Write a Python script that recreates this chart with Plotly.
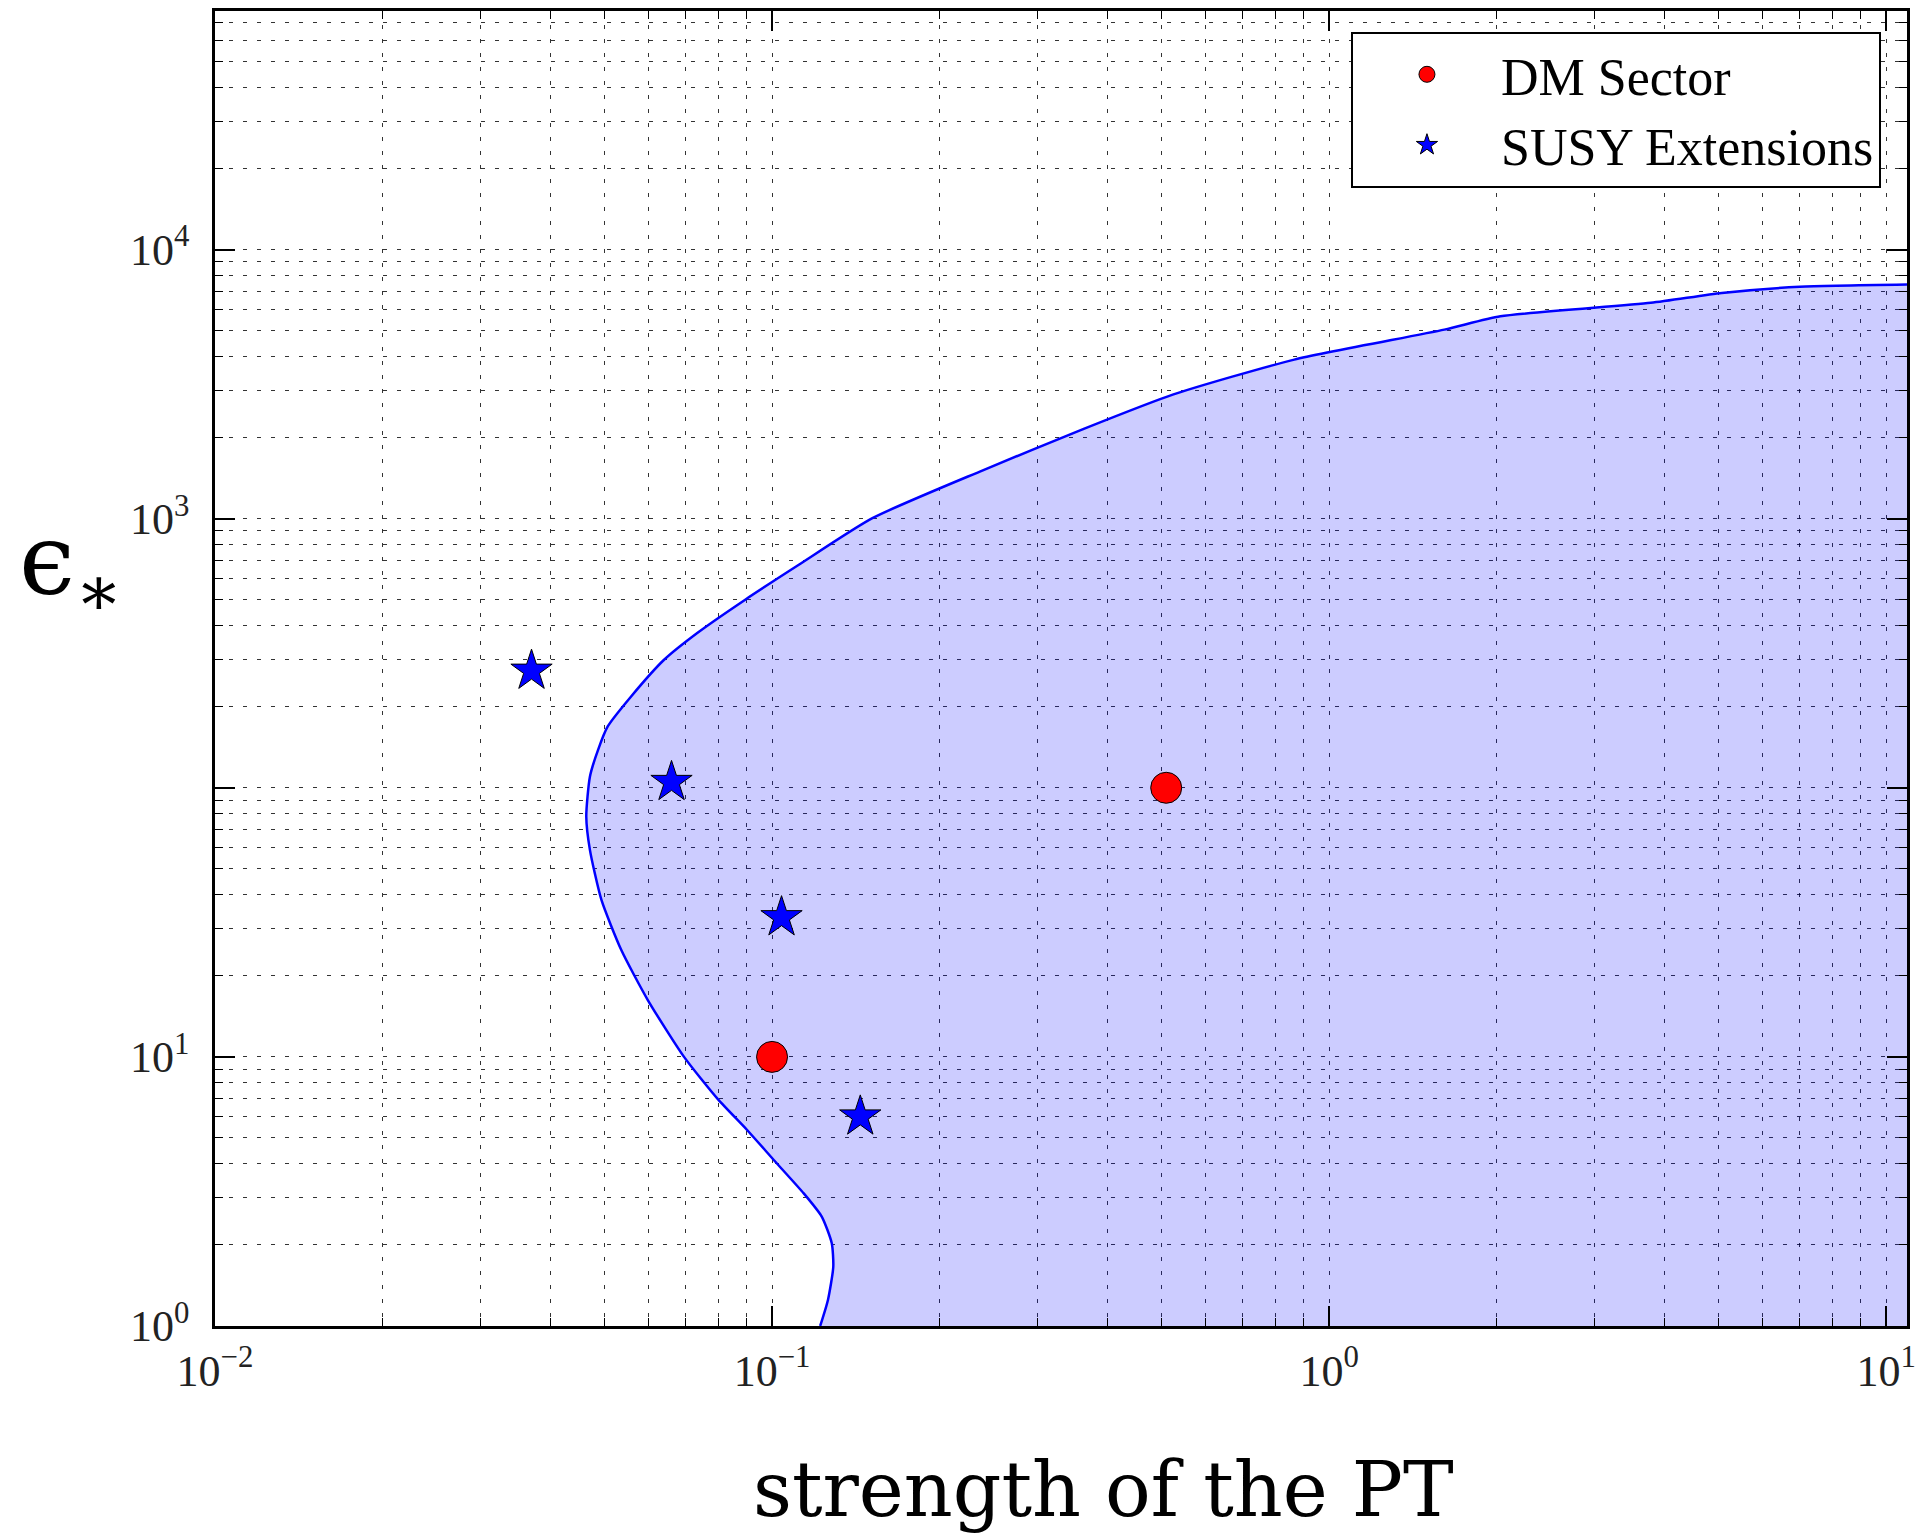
import math
import plotly.graph_objects as go

# ---------------- data ----------------
# boundary of the shaded region (strength of the PT, epsilon_*)
boundary_x = [0.122, 0.126, 0.1288, 0.128, 0.1228, 0.114, 0.1007, 0.0902, 0.0800,
              0.0695, 0.0598, 0.0536, 0.0494, 0.0471, 0.0464, 0.0471, 0.0487, 0.0507,
              0.0558, 0.0640, 0.0734, 0.0895, 0.1117, 0.1514, 0.239, 0.359, 0.524,
              0.866, 1.61, 2.03, 3.78, 5.07, 7.0, 10.9]
boundary_y = [1.0, 1.25, 1.66, 2.03, 2.55, 3.11, 4.14, 5.35, 6.95,
              10.0, 16.3, 25.0, 38.3, 58.8, 78.2, 110, 138, 169,
              218, 299, 376, 500, 674, 1004, 1513, 2138, 2890,
              3900, 5040, 5650, 6340, 6900, 7270, 7410]

dm_x = [0.1, 0.51]
dm_y = [10, 100]

susy_x = [0.037, 0.066, 0.104, 0.144]
susy_y = [272, 105, 33, 6]

x_tickvals = [0.01, 0.1, 1, 10]
x_ticktext = ["10<sup>−2</sup>", "10<sup>−1</sup>", "10<sup>0</sup>", "10<sup>1</sup>"]
y_tickvals = [1, 10, 100, 1000, 10000]
y_ticktext = ["10<sup>0</sup>", "10<sup>1</sup>", "", "10<sup>3</sup>", "10<sup>4</sup>"]

X_MIN, X_MAX = 0.01, 10.9
Y_MIN, Y_MAX = 1.0, 7.7e4

# ---------------- layout geometry ----------------
W, H = 1924, 1533
ML, MR, MT, MB = 215, 8, 11, 207
PW = W - ML - MR
PH = H - MT - MB

minor_x = [m * 10 ** k for k in range(-2, 2) for m in range(2, 10)]
minor_y = [m * 10 ** k for k in range(0, 5) for m in range(2, 10)]

fig = go.Figure()

# shaded region (closed along the lower-right corner of the axes)
fig.add_trace(go.Scatter(
    x=boundary_x + [X_MAX, boundary_x[0]],
    y=boundary_y + [Y_MIN, boundary_y[0]],
    mode="lines", fill="toself", fillcolor="rgba(0,0,255,0.2)",
    line=dict(width=0, color="rgba(0,0,0,0)"),
    showlegend=False, hoverinfo="skip"))

fig.add_trace(go.Scatter(
    x=boundary_x, y=boundary_y, mode="lines",
    line=dict(color="#0000ff", width=2.5, shape="spline", smoothing=0.6),
    showlegend=False))

fig.add_trace(go.Scatter(
    x=dm_x, y=dm_y, mode="markers", name="DM Sector",
    marker=dict(symbol="circle", size=31, color="#ff0000",
                line=dict(color="black", width=1))))

fig.add_trace(go.Scatter(
    x=susy_x, y=susy_y, mode="markers", name="SUSY Extensions",
    marker=dict(symbol="star", size=31, color="#0000ff",
                line=dict(color="black", width=1))))

grid_common = dict(showgrid=True, gridcolor="rgba(0,0,0,0.8)", gridwidth=1.3,
                   griddash="4px,10px")

fig.update_xaxes(
    type="log", range=[math.log10(X_MIN), math.log10(X_MAX)],
    tickvals=x_tickvals, ticktext=x_ticktext,
    ticks="inside", ticklen=20, tickwidth=1.5, tickcolor="black",
    showline=True, linecolor="black", linewidth=2.5, mirror="allticks",
    tickfont=dict(family="Liberation Serif", size=44, color="#222"),
    ticklabelstandoff=4,
    zeroline=False,
    minor=dict(tickvals=minor_x, ticks="inside", ticklen=8, tickwidth=1.2,
               tickcolor="black", **grid_common),
    **grid_common)

fig.update_yaxes(
    type="log", range=[math.log10(Y_MIN), math.log10(Y_MAX)],
    tickvals=y_tickvals, ticktext=y_ticktext,
    ticks="inside", ticklen=20, tickwidth=1.5, tickcolor="black",
    showline=True, linecolor="black", linewidth=2.5, mirror="allticks",
    tickfont=dict(family="Liberation Serif", size=44, color="#222"),
    ticklabelstandoff=14,
    zeroline=False,
    minor=dict(tickvals=minor_y, ticks="inside", ticklen=8, tickwidth=1.2,
               tickcolor="black", **grid_common),
    **grid_common)


def px_to_paper_x(px):
    return (px - ML) / PW


def px_to_paper_y(py):
    return (H - MB - py) / PH


fig.update_layout(
    width=W, height=H,
    margin=dict(l=ML, r=MR, t=MT, b=MB, pad=0),
    plot_bgcolor="white", paper_bgcolor="white",
    showlegend=True,
    legend=dict(
        x=px_to_paper_x(1357), y=px_to_paper_y(32),
        xanchor="left", yanchor="top",
        bgcolor="white", bordercolor="black", borderwidth=2,
        font=dict(family="Liberation Serif", size=52, color="black"),
        itemsizing="trace", itemwidth=138, tracegroupgap=0,
    ),
    annotations=[
        dict(text="strength of the PT", xref="paper", yref="paper",
             x=px_to_paper_x(1108), y=px_to_paper_y(1490),
             xanchor="center", yanchor="middle", showarrow=False,
             font=dict(family="DejaVu Serif", size=76, color="black")),
        dict(text="ϵ<sub>∗</sub>", xref="paper", yref="paper",
             x=px_to_paper_x(16), y=px_to_paper_y(566),
             xanchor="left", yanchor="middle", showarrow=False,
             font=dict(family="DejaVu Serif", size=100, color="black")),
    ],
)

fig.write_html("out.html")
